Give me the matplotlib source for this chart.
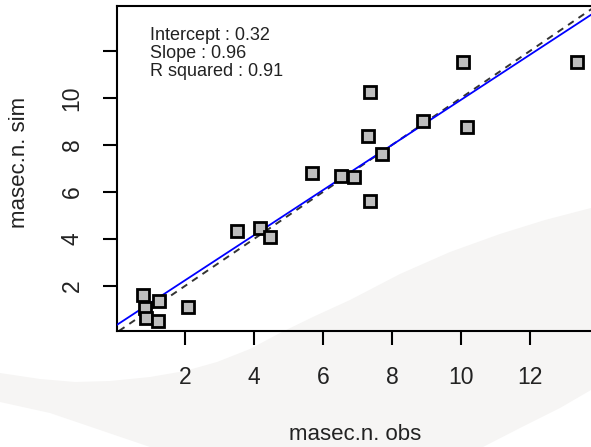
import numpy as np
import matplotlib
matplotlib.use("Agg")
import matplotlib.pyplot as plt
from matplotlib.patches import Polygon

plt.rcParams['font.family'] = ['Liberation Sans', 'DejaVu Sans']

# observed vs simulated values
obs = [0.77, 0.84, 1.26, 0.87, 1.23, 2.10,
       3.51, 4.17, 4.46,
       5.68, 6.52, 6.90, 7.36,
       7.30, 7.36, 7.71, 8.90, 10.17, 10.06, 13.36]
sim = [1.62, 1.05, 1.37, 0.63, 0.52, 1.12,
       4.34, 4.47, 4.09,
       6.81, 6.68, 6.64, 5.62,
       8.38, 10.26, 7.62, 9.03, 8.77, 11.53, 11.53]

intercept = 0.32
slope = 0.96
r2 = 0.91

x_ticks = [2, 4, 6, 8, 10, 12]
y_ticks = [2, 4, 6, 8, 10, 12]
y_ticklabels = ['2', '4', '6', '8', '10', '']

W, H = 591, 447
fig = plt.figure(figsize=(W / 100, H / 100), dpi=100)
fig.patch.set_facecolor('white')

# faint grey swoosh in the background (pixel coords, y from top)
upper = [(0, 373), (40, 379), (75, 382), (110, 381), (150, 377), (185, 371),
         (217, 362), (250, 349), (280, 333), (315, 316), (350, 300),
         (400, 274), (450, 252), (500, 234), (545, 220), (591, 208)]
lower = [(591, 390), (560, 408), (520, 428), (483, 447), (420, 470),
         (300, 480), (200, 470), (150, 447), (100, 430), (50, 413), (0, 402)]
pts = [(x / W, 1 - y / H) for x, y in upper + lower]
fig.patches.append(Polygon(pts, closed=True, transform=fig.transFigure,
                           facecolor='#f6f5f4', edgecolor='none', zorder=-5))

# axes: left at px 117, bottom at px 331, top at px 6, extends past right edge
ax = fig.add_axes([117 / W, 1 - 331 / H, 480 / W, 325 / H])
ax.set_facecolor('none')
ax.set_xlim(0.03, 13.94)
ax.set_ylim(0.085, 13.91)

ax.axline((0, 0), slope=1, color='#333333', lw=1.4, ls=(0, (3.5, 3)), zorder=2)
ax.axline((0, intercept), slope=slope, color='#0000ff', lw=1.3, zorder=3)

ax.plot(obs, sim, ls='none', marker='s', markersize=8.5,
        markerfacecolor='#bebebe', markeredgecolor='black',
        markeredgewidth=2.0, zorder=4)

for s in ax.spines.values():
    s.set_linewidth(1.5)

ax.set_xticks(x_ticks)
ax.set_yticks(y_ticks)
ax.set_yticklabels(y_ticklabels, rotation=90, va='center')
ax.tick_params(axis='both', length=10, width=1.5, labelsize=16.5,
               color='black', labelcolor='#222222')
ax.tick_params(axis='x', pad=15)
ax.tick_params(axis='y', pad=14)

ax.set_xlabel('masec.n. obs', fontsize=16, color='#222222')
ax.set_ylabel('masec.n. sim', fontsize=16, color='#222222')
ax.xaxis.set_label_coords(0.497, -0.32)
ax.xaxis.label.set_va('center')
ax.yaxis.set_label_coords(-0.204, 0.52)
ax.yaxis.label.set_va('center')

ax.text(0.069, 0.935,
        'Intercept : %.2f\nSlope : %.2f\nR squared : %.2f' % (intercept, slope, r2),
        transform=ax.transAxes, fontsize=13, va='top', ha='left',
        linespacing=1.07, color='#222222')

fig.savefig('out.png', dpi=100)
